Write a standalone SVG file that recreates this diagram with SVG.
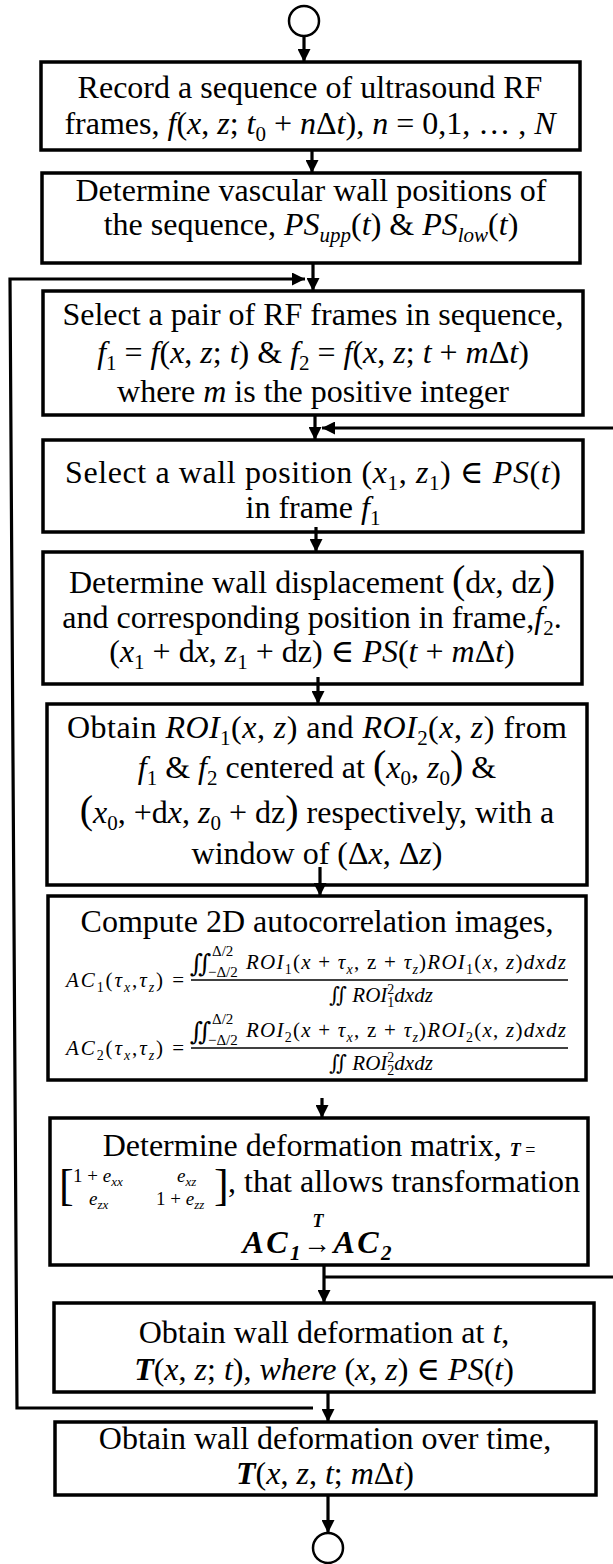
<svg xmlns="http://www.w3.org/2000/svg" width="613" height="1564" viewBox="0 0 613 1564">
<defs>
<marker id="ah" markerUnits="userSpaceOnUse" markerWidth="14" markerHeight="13" refX="13" refY="6.5" orient="auto">
<path d="M0,0 L13,6.5 L0,13 Z" fill="#000"/>
</marker>
<style>
.box{fill:#fff;stroke:#000;stroke-width:3.5}
.term{fill:#fff;stroke:#000;stroke-width:2.5}
.t{font-family:"Liberation Serif","Times New Roman","DejaVu Serif",serif;font-size:32px;fill:#000;text-anchor:middle}
.st{text-anchor:start}
.i{font-style:italic}
.b{font-weight:bold}
.sub{font-size:21px;baseline-shift:-7px}
.big{font-size:40px}
.f{font-size:21px}
.fsub{font-size:14px;baseline-shift:-5px}
.fsup{font-size:14px;baseline-shift:8px}
.lim{font-size:15px}
.m{font-size:19px}
.msub{font-size:13px;baseline-shift:-4px}
.conn{fill:none;stroke:#000;stroke-width:3.2}
.frac{stroke:#000;stroke-width:1.6}
</style>
</defs>

<g id="start"><circle class="term" cx="304" cy="21" r="15"/></g>

<g id="n1">
<rect class="box" x="41" y="62" width="539" height="88"/>
<text class="t" x="310" y="98">Record a sequence of ultrasound RF</text>
<text class="t" x="310" y="134">frames, <tspan class="i">f</tspan>(<tspan class="i">x</tspan>, <tspan class="i">z</tspan>; <tspan class="i">t</tspan><tspan class="sub">0</tspan> + <tspan class="i">n</tspan>Δ<tspan class="i">t</tspan>), <tspan class="i">n</tspan> = 0,1, … , <tspan class="i">N</tspan></text>
</g>

<g id="n2">
<rect class="box" x="42" y="173" width="538" height="90"/>
<text class="t" x="311" y="201">Determine vascular wall positions of</text>
<text class="t" x="311" y="235">the sequence, <tspan class="i">PS</tspan><tspan class="sub i">upp</tspan>(<tspan class="i">t</tspan>) &amp; <tspan class="i">PS</tspan><tspan class="sub i">low</tspan>(<tspan class="i">t</tspan>)</text>
</g>

<g id="n3">
<rect class="box" x="43" y="291" width="540" height="124"/>
<text class="t" x="313" y="325">Select a pair of RF frames in sequence,</text>
<text class="t" x="313" y="363"><tspan class="i">f</tspan><tspan class="sub">1</tspan> = <tspan class="i">f</tspan>(<tspan class="i">x</tspan>, <tspan class="i">z</tspan>; <tspan class="i">t</tspan>) &amp; <tspan class="i">f</tspan><tspan class="sub">2</tspan> = <tspan class="i">f</tspan>(<tspan class="i">x</tspan>, <tspan class="i">z</tspan>; <tspan class="i">t</tspan> + <tspan class="i">m</tspan>Δ<tspan class="i">t</tspan>)</text>
<text class="t" x="313" y="402">where <tspan class="i">m</tspan> is the positive integer</text>
</g>

<g id="n4">
<rect class="box" x="43" y="440" width="540" height="92"/>
<text class="t" x="313" y="483" textLength="496" lengthAdjust="spacing">Select a wall position (<tspan class="i">x</tspan><tspan class="sub">1</tspan>, <tspan class="i">z</tspan><tspan class="sub">1</tspan>) ∈ <tspan class="i">PS</tspan>(<tspan class="i">t</tspan>)</text>
<text class="t" x="313" y="518">in frame <tspan class="i">f</tspan><tspan class="sub">1</tspan></text>
</g>

<g id="n5">
<rect class="box" x="43" y="552" width="539" height="132"/>
<text class="t" x="312" y="593">Determine wall displacement <tspan class="big">(</tspan>d<tspan class="i">x</tspan>, dz<tspan class="big">)</tspan></text>
<text class="t" x="312" y="628">and corresponding position in frame,<tspan class="i">f</tspan><tspan class="sub">2</tspan>.</text>
<text class="t" x="312" y="662">(<tspan class="i">x</tspan><tspan class="sub">1</tspan> + d<tspan class="i">x</tspan>, <tspan class="i">z</tspan><tspan class="sub">1</tspan> + dz) ∈ <tspan class="i">PS</tspan>(<tspan class="i">t</tspan> + <tspan class="i">m</tspan>Δ<tspan class="i">t</tspan>)</text>
</g>

<g id="n6">
<rect class="box" x="47" y="704" width="540" height="181"/>
<text class="t" x="317" y="738" textLength="500" lengthAdjust="spacing">Obtain <tspan class="i">ROI</tspan><tspan class="sub">1</tspan>(<tspan class="i">x</tspan>, <tspan class="i">z</tspan>) and <tspan class="i">ROI</tspan><tspan class="sub">2</tspan>(<tspan class="i">x</tspan>, <tspan class="i">z</tspan>) from</text>
<text class="t" x="317" y="778"><tspan class="i">f</tspan><tspan class="sub">1</tspan> &amp; <tspan class="i">f</tspan><tspan class="sub">2</tspan> centered at <tspan class="big">(</tspan><tspan class="i">x</tspan><tspan class="sub">0</tspan>, <tspan class="i">z</tspan><tspan class="sub">0</tspan><tspan class="big">)</tspan> &amp;</text>
<text class="t" x="317" y="823"><tspan class="big">(</tspan><tspan class="i">x</tspan><tspan class="sub">0</tspan>, +d<tspan class="i">x</tspan>, <tspan class="i">z</tspan><tspan class="sub">0</tspan> + dz<tspan class="big">)</tspan> respectively, with a</text>
<text class="t" x="317" y="864">window of (Δ<tspan class="i">x</tspan>, Δ<tspan class="i">z</tspan>)</text>
</g>

<g id="n7">
<rect class="box" x="48" y="896" width="538" height="184"/>
<text class="t" x="317" y="932">Compute 2D autocorrelation images,</text>
<text class="t st f" x="66" y="987" textLength="118" lengthAdjust="spacing"><tspan class="i">AC</tspan><tspan class="fsub">1</tspan>(<tspan class="i">τ</tspan><tspan class="fsub i">x</tspan>,<tspan class="i">τ</tspan><tspan class="fsub i">z</tspan>) =</text>
<text class="t st" x="190" y="972" style="font-size:25px">∬</text>
<text class="t st lim" x="212" y="956">Δ/2</text>
<text class="t st lim" x="208" y="977">−Δ/2</text>
<text class="t st f" x="246" y="969" textLength="320" lengthAdjust="spacing"><tspan class="i">ROI</tspan><tspan class="fsub">1</tspan>(<tspan class="i">x</tspan> + <tspan class="i">τ</tspan><tspan class="fsub i">x</tspan>, z + <tspan class="i">τ</tspan><tspan class="fsub i">z</tspan>)<tspan class="i">ROI</tspan><tspan class="fsub">1</tspan>(<tspan class="i">x</tspan>, <tspan class="i">z</tspan>)<tspan class="i">dxdz</tspan></text>
<line class="frac" x1="191" y1="980" x2="568" y2="980"/>
<text class="t f" x="381" y="1002">∬ <tspan class="i">ROI</tspan><tspan class="fsup">2</tspan><tspan class="fsub" dx="-7">1</tspan><tspan class="i">dxdz</tspan></text>
<text class="t st f" x="66" y="1055" textLength="118" lengthAdjust="spacing"><tspan class="i">AC</tspan><tspan class="fsub">2</tspan>(<tspan class="i">τ</tspan><tspan class="fsub i">x</tspan>,<tspan class="i">τ</tspan><tspan class="fsub i">z</tspan>) =</text>
<text class="t st" x="190" y="1040" style="font-size:25px">∬</text>
<text class="t st lim" x="212" y="1024">Δ/2</text>
<text class="t st lim" x="208" y="1045">−Δ/2</text>
<text class="t st f" x="246" y="1037" textLength="320" lengthAdjust="spacing"><tspan class="i">ROI</tspan><tspan class="fsub">2</tspan>(<tspan class="i">x</tspan> + <tspan class="i">τ</tspan><tspan class="fsub i">x</tspan>, z + <tspan class="i">τ</tspan><tspan class="fsub i">z</tspan>)<tspan class="i">ROI</tspan><tspan class="fsub">2</tspan>(<tspan class="i">x</tspan>, <tspan class="i">z</tspan>)<tspan class="i">dxdz</tspan></text>
<line class="frac" x1="191" y1="1048" x2="568" y2="1048"/>
<text class="t f" x="381" y="1070">∬ <tspan class="i">ROI</tspan><tspan class="fsup">2</tspan><tspan class="fsub" dx="-7">2</tspan><tspan class="i">dxdz</tspan></text>
</g>

<g id="n8">
<rect class="box" x="50" y="1118" width="538" height="147"/>
<text class="t" x="319" y="1156">Determine deformation matrix, <tspan class="b i" style="font-size:18px">T</tspan><tspan style="font-size:18px"> =</tspan></text>
<text class="t st" x="59" y="1200" style="font-size:44px">[</text>
<text class="t st m" x="73" y="1182">1 + <tspan class="i">e</tspan><tspan class="msub i">xx</tspan></text>
<text class="t st m" x="177" y="1182"><tspan class="i">e</tspan><tspan class="msub i">xz</tspan></text>
<text class="t st m" x="89" y="1205"><tspan class="i">e</tspan><tspan class="msub i">zx</tspan></text>
<text class="t st m" x="156" y="1205">1 + <tspan class="i">e</tspan><tspan class="msub i">zz</tspan></text>
<text class="t st" x="214" y="1200" style="font-size:44px">]</text>
<text class="t st" x="228" y="1192">, that allows transformation</text>
<text class="t b i" x="318" y="1227" style="font-size:18px">T</text>
<text class="t b i" x="317" y="1253" textLength="149" lengthAdjust="spacing">AC<tspan class="sub">1</tspan><tspan style="font-style:normal;font-weight:normal;font-size:28px">→</tspan>AC<tspan class="sub">2</tspan></text>
</g>

<g id="n9">
<rect class="box" x="54" y="1303" width="540" height="89"/>
<text class="t" x="324" y="1343">Obtain wall deformation at <tspan class="i">t</tspan>,</text>
<text class="t" x="324" y="1380"><tspan class="b i">T</tspan>(<tspan class="i">x</tspan>, <tspan class="i">z</tspan>; <tspan class="i">t</tspan>), <tspan class="i">where</tspan> (<tspan class="i">x</tspan>, <tspan class="i">z</tspan>) ∈ <tspan class="i">PS</tspan>(<tspan class="i">t</tspan>)</text>
</g>

<g id="n10">
<rect class="box" x="55" y="1422" width="541" height="73"/>
<text class="t" x="325" y="1449">Obtain wall deformation over time,</text>
<text class="t" x="325" y="1484"><tspan class="b i">T</tspan>(<tspan class="i">x</tspan>, <tspan class="i">z</tspan>, <tspan class="i">t</tspan>; <tspan class="i">m</tspan>Δ<tspan class="i">t</tspan>)</text>
</g>

<g id="end"><circle class="term" cx="328" cy="1548" r="15"/></g>

<g id="connectors">
<line class="conn" x1="304" y1="36" x2="304" y2="62" marker-end="url(#ah)"/>
<line class="conn" x1="312" y1="150" x2="312" y2="173" marker-end="url(#ah)"/>
<line class="conn" x1="313" y1="263" x2="313" y2="291" marker-end="url(#ah)"/>
<path class="conn" d="M313,1408 L17,1408 L10,279 L305,279" marker-end="url(#ah)"/>
<line class="conn" x1="315" y1="415" x2="315" y2="440" marker-end="url(#ah)"/>
<line class="conn" x1="613" y1="428" x2="322" y2="428" marker-end="url(#ah)"/>
<line class="conn" x1="316" y1="527" x2="316" y2="552" marker-end="url(#ah)"/>
<line class="conn" x1="318" y1="677" x2="318" y2="704" marker-end="url(#ah)"/>
<line class="conn" x1="320" y1="867" x2="320" y2="896" marker-end="url(#ah)"/>
<line class="conn" x1="322" y1="1098" x2="322" y2="1118" marker-end="url(#ah)"/>
<line class="conn" x1="324" y1="1265" x2="324" y2="1303" marker-end="url(#ah)"/>
<line class="conn" x1="324" y1="1277" x2="613" y2="1277"/>
<line class="conn" x1="328" y1="1392" x2="328" y2="1422" marker-end="url(#ah)"/>
<line class="conn" x1="328" y1="1495" x2="328" y2="1533" marker-end="url(#ah)"/>
</g>
</svg>
